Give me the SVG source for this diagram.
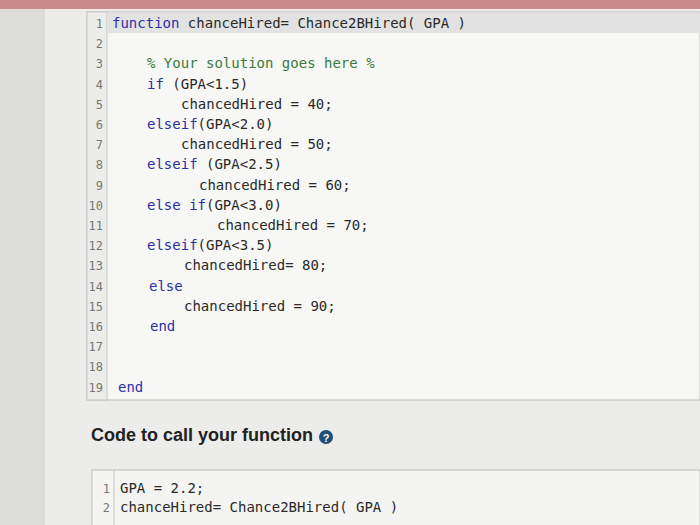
<svg xmlns="http://www.w3.org/2000/svg" width="700" height="525" viewBox="0 0 700 525">
<style>
.c{font-family:"DejaVu Sans Mono",monospace;font-size:14px;fill:#2a2a2a;white-space:pre}
.k{fill:#2c2fa8}
.g{fill:#3c7a3c}
.n{font-family:"DejaVu Sans Mono",monospace;font-size:12px;fill:#777;text-anchor:end}
</style>
<rect width="700" height="525" fill="#e9e9e6"/>
<rect width="700" height="9" fill="#c98a8a"/>
<rect x="0" y="9" width="45" height="516" fill="#dcdcd8"/>
<rect x="45" y="9" width="655" height="516" fill="#ececea"/>
<rect x="87" y="12" width="613" height="388" fill="#f7f7f5" stroke="#bdbdbb"/>
<rect x="87" y="12" width="20" height="388" fill="#ececea" stroke="#c5c5c3"/>
<rect x="107" y="13" width="593" height="20" fill="#e2e2e2"/>
<g class="n">
<text x="103" y="28">1</text><text x="103" y="48">2</text><text x="103" y="68">3</text><text x="103" y="89">4</text><text x="103" y="109">5</text><text x="103" y="129">6</text><text x="103" y="149">7</text><text x="103" y="169">8</text><text x="103" y="190">9</text><text x="103" y="210">10</text><text x="103" y="230">11</text><text x="103" y="250">12</text><text x="103" y="270">13</text><text x="103" y="291">14</text><text x="103" y="311">15</text><text x="103" y="331">16</text><text x="103" y="351">17</text><text x="103" y="371">18</text><text x="103" y="392">19</text>
</g>
<text class="c" x="112" y="28"><tspan class="k">function</tspan> chanceHired= Chance2BHired( GPA )</text>
<text class="c g" x="147" y="68">% Your solution goes here %</text>
<text class="c" x="147" y="89"><tspan class="k">if</tspan> (GPA&lt;1.5)</text>
<text class="c" x="181" y="109">chancedHired = 40;</text>
<text class="c" x="147" y="129"><tspan class="k">elseif</tspan>(GPA&lt;2.0)</text>
<text class="c" x="181" y="149">chancedHired = 50;</text>
<text class="c" x="147" y="169"><tspan class="k">elseif</tspan> (GPA&lt;2.5)</text>
<text class="c" x="199" y="190">chancedHired = 60;</text>
<text class="c" x="147" y="210"><tspan class="k">else if</tspan>(GPA&lt;3.0)</text>
<text class="c" x="217" y="230">chancedHired = 70;</text>
<text class="c" x="147" y="250"><tspan class="k">elseif</tspan>(GPA&lt;3.5)</text>
<text class="c" x="184" y="270">chancedHired= 80;</text>
<text class="c k" x="149" y="291">else</text>
<text class="c" x="184" y="311">chancedHired = 90;</text>
<text class="c k" x="150" y="331">end</text>
<text class="c k" x="118" y="392">end</text>
<text x="91" y="441" font-family="Liberation Sans,Arial,sans-serif" font-size="18" font-weight="bold" fill="#222">Code to call your function</text>
<circle cx="326" cy="437" r="7" fill="#1f4e79"/>
<text x="326" y="441.5" font-family="Liberation Sans,Arial,sans-serif" font-size="11" font-weight="bold" fill="#fff" text-anchor="middle">?</text>
<rect x="92" y="470" width="608" height="60" fill="#f4f4f2" stroke="#bdbdbb"/>
<line x1="114" y1="470" x2="114" y2="525" stroke="#c5c5c3"/>
<text class="n" x="110" y="493">1</text><text class="n" x="110" y="512">2</text>
<text class="c" x="120" y="493">GPA = 2.2;</text>
<text class="c" x="120" y="512">chanceHired= Chance2BHired( GPA )</text>
</svg>
